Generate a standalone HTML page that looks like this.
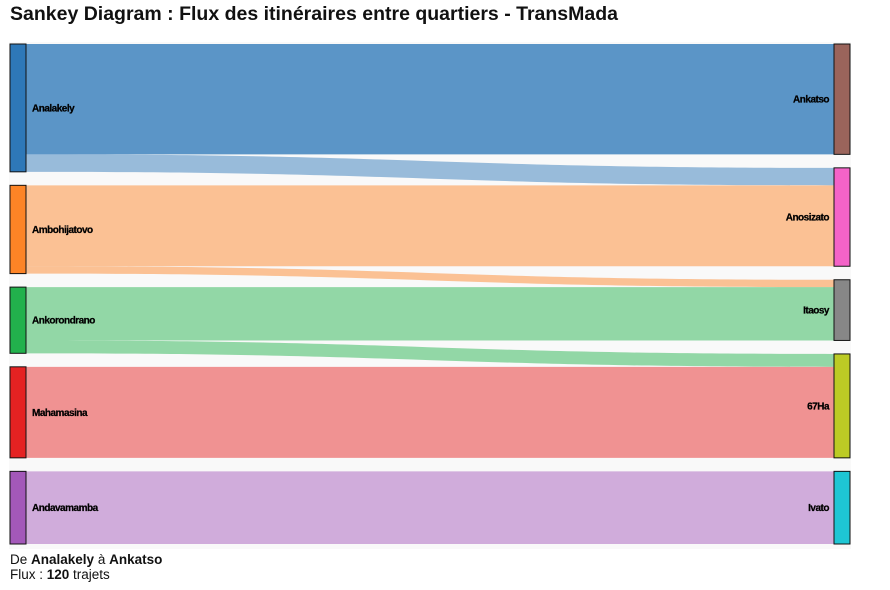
<!DOCTYPE html>
<html><head><meta charset="utf-8"><style>
body{margin:0;background:#fff;width:890px;height:590px;overflow:hidden;font-family:"Liberation Sans",sans-serif}
#title{position:absolute;left:10px;top:3px;font-size:19.5px;font-weight:bold;color:#111}
#tip{position:absolute;left:10px;top:552px;font-size:13.5px;line-height:15px;color:#111}
svg{position:absolute;left:0;top:0}
</style></head><body>
<div id="title">Sankey Diagram : Flux des itinéraires entre quartiers - TransMada</div>
<svg id="chart" width="890" height="590"></svg>
<div id="tip">De <b>Analakely</b> à <b>Ankatso</b><br>Flux : <b>120</b> trajets</div>
<script>
const sources = ["Analakely","Ambohijatovo","Ankorondrano","Mahamasina","Andavamamba"];
const targets = ["Ankatso","Anosizato","Itaosy","67Ha","Ivato"];
const sourceColors = ["#2e78b8","#fd8426","#22b14c","#e52222","#a358b9"];
const targetColors = ["#9a645b","#f463c8","#878787","#bccb25","#1ec6d4"];
const linkFrom = [0,0,1,1,2,2,3,4];
const linkTo =   [0,1,1,2,2,3,3,4];
const linkValues = [120,19,88,8,58,14,99,79];

const NS="http://www.w3.org/2000/svg";
const svg=document.getElementById('chart');
function mk(t,a){const e=document.createElementNS(NS,t);for(const k in a)e.setAttribute(k,a[k]);svg.appendChild(e);return e;}
const Y0=44,Y1=544,PAD=13.5,NW=16,XL=10,XR=834;
const bg=mk('rect',{x:9,y:42,width:842,height:507,fill:'#f9f9f9'});


function totals(n,idx){const t=new Array(n).fill(0);linkValues.forEach((v,i)=>t[idx[i]]+=v);return t;}
const sT=totals(sources.length,linkFrom), tT=totals(targets.length,linkTo);
const ky=Math.min((Y1-Y0-PAD*(sources.length-1))/sT.reduce((a,b)=>a+b,0),(Y1-Y0-PAD*(targets.length-1))/tT.reduce((a,b)=>a+b,0));
function stack(t){let y=Y0;return t.map(v=>{const r=[y,y+v*ky];y+=v*ky+PAD;return r;});}
const sPos=stack(sT), tPos=stack(tT);
const sOff=sPos.map(p=>p[0]), tOff=tPos.map(p=>p[0]);
const x0=XL+NW, x1=XR, xm=(x0+x1)/2;
linkValues.forEach((v,i)=>{
  const s=linkFrom[i], t=linkTo[i], h=v*ky;
  const ys=sOff[s]; sOff[s]+=h; const yt=tOff[t]; tOff[t]+=h;
  const d=`M${x0},${ys}C${xm},${ys} ${xm},${yt} ${x1},${yt}L${x1},${yt+h}C${xm},${yt+h} ${xm},${ys+h} ${x0},${ys+h}Z`;
  const p=mk('path',{d:d,fill:sourceColors[s],'fill-opacity':i===0?0.78:0.48});
  
  
});
function nodes(names,pos,cols,x,left){
  names.forEach((n,i)=>{
    const r=mk('rect',{x:x,y:pos[i][0],width:NW,height:pos[i][1]-pos[i][0],fill:cols[i],stroke:'#111','stroke-width':1});
    
    
    const tx=mk('text',{x:left?x+NW+6:x-5,y:(pos[i][0]+pos[i][1])/2+3.5,'text-anchor':left?'start':'end','font-size':10,'font-family':'Liberation Sans, sans-serif','font-weight':'bold',fill:'#000',stroke:'#000','stroke-width':0.25,'letter-spacing':'-0.5'});
    tx.textContent=n;
    
    
  });
}
nodes(sources,sPos,sourceColors,XL,true);
nodes(targets,tPos,targetColors,XR,false);
</script>
</body></html>
